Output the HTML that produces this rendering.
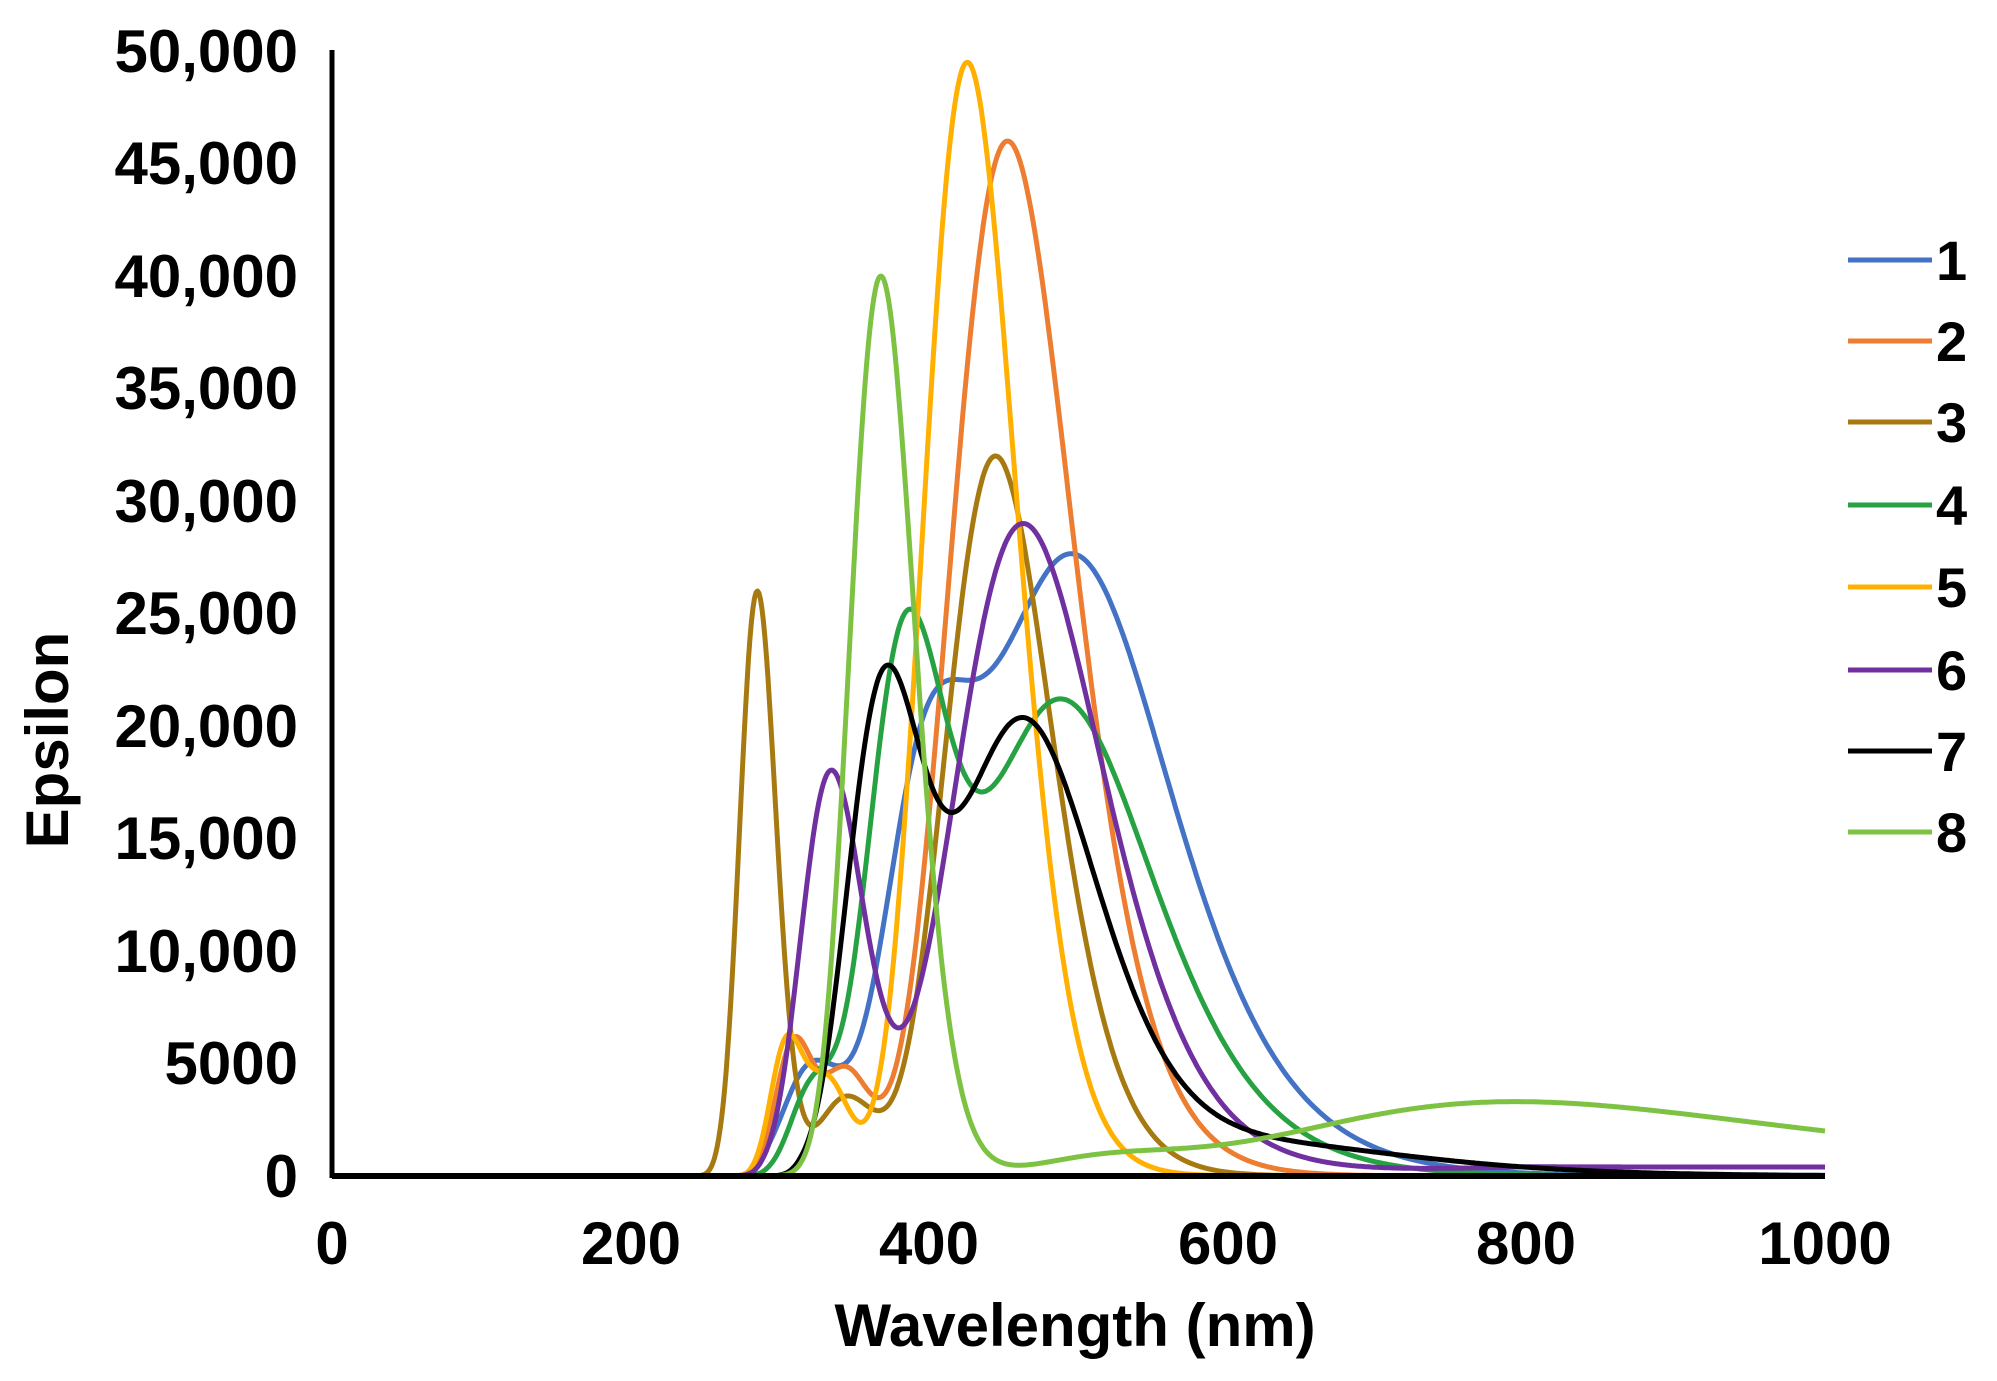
<!DOCTYPE html>
<html><head><meta charset="utf-8"><style>
body{margin:0;background:#fff}
svg text{font-family:"Liberation Sans",Arial,sans-serif;font-weight:bold;fill:#000}
</style></head><body>
<svg id="s" width="1997" height="1376" xmlns="http://www.w3.org/2000/svg">
<line x1="332" y1="50" x2="332" y2="1178" stroke="#000" stroke-width="5"/>
<g font-size="60" text-anchor="end">
<text x="298" y="72">50,000</text>
<text x="298" y="184">45,000</text>
<text x="298" y="297">40,000</text>
<text x="298" y="409">35,000</text>
<text x="298" y="522">30,000</text>
<text x="298" y="634">25,000</text>
<text x="298" y="747">20,000</text>
<text x="298" y="859">15,000</text>
<text x="298" y="972">10,000</text>
<text x="298" y="1084">5000</text>
<text x="298" y="1197">0</text>
</g>
<g font-size="60" text-anchor="middle">
<text x="332" y="1264">0</text>
<text x="631" y="1264">200</text>
<text x="929" y="1264">400</text>
<text x="1228" y="1264">600</text>
<text x="1526" y="1264">800</text>
<text x="1825" y="1264">1000</text>
<text x="1075" y="1346">Wavelength (nm)</text>
<text transform="translate(68,740) rotate(-90)">Epsilon</text>
</g>
<g id="curves"></g>
<line x1="332" y1="1176" x2="1825" y2="1176" stroke="#000" stroke-width="6"/>
<g id="leg" font-size="56"></g>
</svg>
<script>
var series=[
 ["#4472C4",262,[[25.0,18500,1.9],[20.0,27000,2.3],[31,5000,2]],0],
 ["#ED7D31",262,[[22.1,46000,2.0],[32.3,6000,1.3],[29.0,4500,1.3]],0],
 ["#A67A10",230,[[35.1,26000,1.5],[22.5,32000,1.8],[29.0,3500,1.6]],0],
 ["#27A243",262,[[26.0,24000,1.8],[20.4,21000,2.3],[31,4000,1.5]],0],
 ["#FFB000",255,[[23.5,49500,1.7],[32.8,6000,1.2],[30.0,4000,1.2]],0],
 ["#7030A0",260,[[29.9,18000,1.9],[21.6,29000,2.3]],400],
 ["#000000",285,[[27.0,22000,1.9],[21.5,20000,2.1],[15.5,1200,2]],0],
 ["#7DC242",270,[[27.2,40000,1.6],[12.6,3300,2.6],[19,900,2]],0]
];
var g=document.getElementById('curves'),leg=document.getElementById('leg');
var NS="http://www.w3.org/2000/svg";
var labY=[260,341,422,505,587,670,751,832];
series.forEach(function(s,i){
 var d="";
 for(var nm=0;nm<=1000;nm+=1){
  var v=0;
  if(nm>s[1]){
   var k=1e4/nm;
   s[2].forEach(function(p){var z=(k-p[0])/p[2];v+=p[1]*Math.exp(-z*z/2);});
   var t=Math.min(1,(nm-s[1])/30);t=t*t*(3-2*t);
   v=v*t+s[3]*Math.min(1,Math.max(0,(nm-600)/200));
  }
  var x=332+1.493*nm,y=1176-v*0.0225;
  d+=(nm?"L":"M")+x.toFixed(1)+" "+y.toFixed(1);
 }
 var p=document.createElementNS(NS,"path");
 p.setAttribute("d",d);p.setAttribute("fill","none");p.setAttribute("stroke",s[0]);
 p.setAttribute("stroke-width","5");p.setAttribute("stroke-linejoin","round");
 g.appendChild(p);
 var l=document.createElementNS(NS,"line");
 l.setAttribute("x1",1848);l.setAttribute("x2",1932);l.setAttribute("y1",labY[i]);l.setAttribute("y2",labY[i]);
 l.setAttribute("stroke",s[0]);l.setAttribute("stroke-width","5");leg.appendChild(l);
 var t=document.createElementNS(NS,"text");
 t.setAttribute("x",1936);t.setAttribute("y",labY[i]+20);t.textContent=String(i+1);leg.appendChild(t);
});
</script>
</body></html>
